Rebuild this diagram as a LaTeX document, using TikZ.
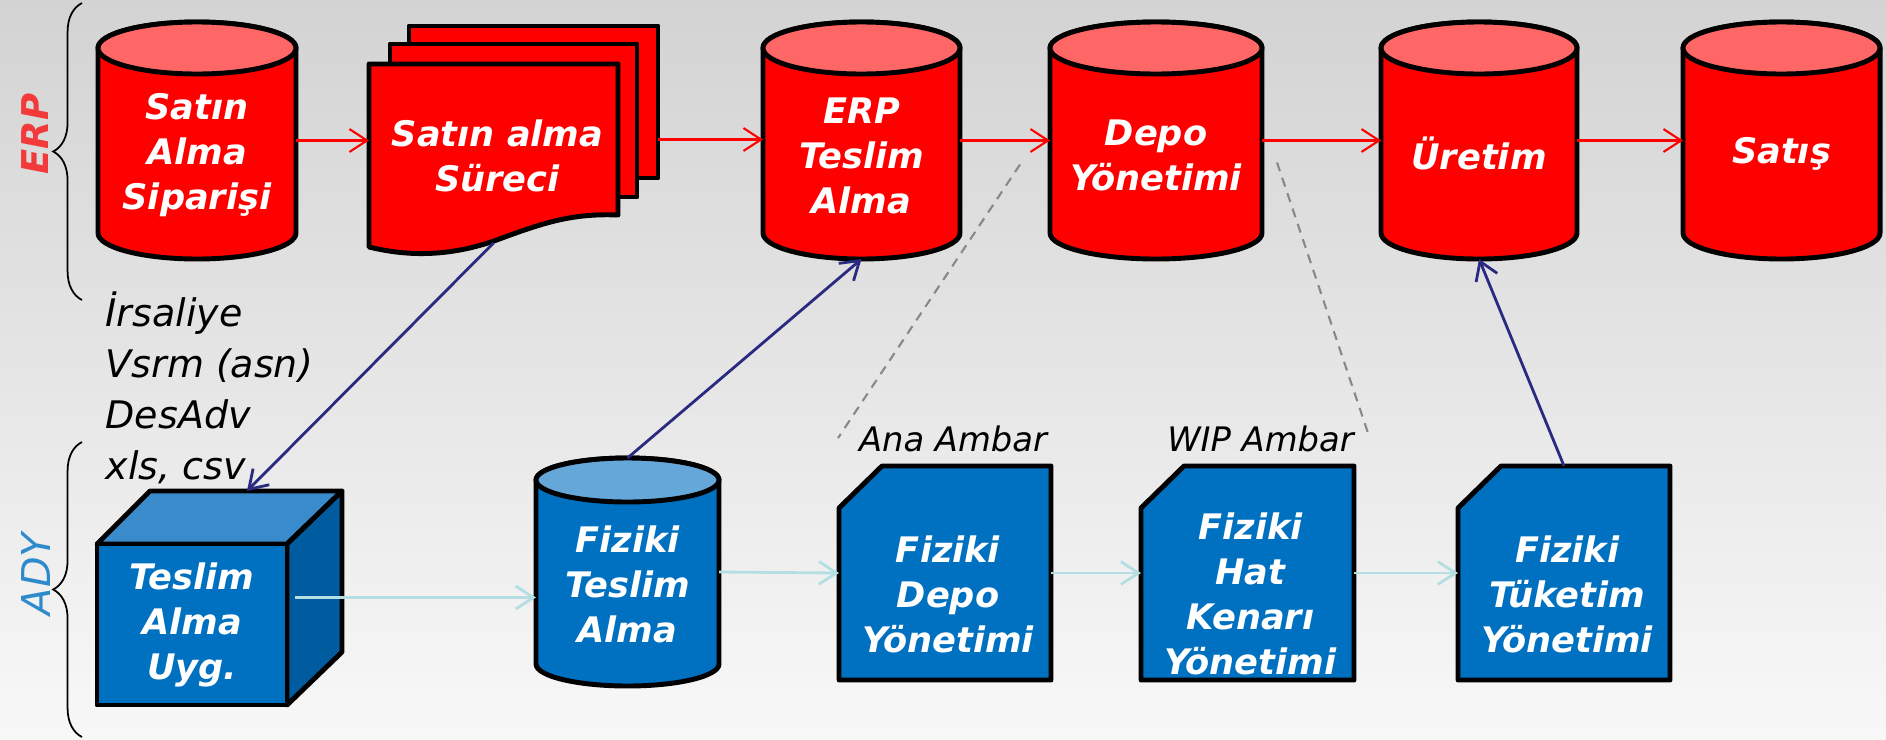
\documentclass[tikz,border=0pt]{standalone}
\usepackage{fontspec}
\setmainfont{DejaVu Sans}
\usepackage{tikz}
\usetikzlibrary{calc,fit,arrows.meta,decorations.pathreplacing}
\definecolor{bgtop}{HTML}{D3D3D3}
\definecolor{bgbot}{HTML}{F8F8F8}
\definecolor{erpred}{HTML}{FF0000}
\definecolor{erptop}{HTML}{FF6666}
\definecolor{erplab}{HTML}{F23A3A}
\definecolor{adyblue}{HTML}{0070C0}
\definecolor{adytop}{HTML}{66A7DA}
\definecolor{cubetop}{HTML}{3A8BCB}
\definecolor{cubeside}{HTML}{005C9F}
\definecolor{adylab}{HTML}{2E8BCB}
\definecolor{navy}{HTML}{2A2A80}
\definecolor{pale}{HTML}{B4DEE2}
\definecolor{muted}{HTML}{888888}
\tikzset{
  shp/.style={draw=black, line width=1.4pt, line join=round},
  hold/.style={inner sep=0pt, outer sep=0pt},
  txt/.style={text=white, align=center, inner sep=0pt, font=\fontsize{10pt}{12.8pt}\selectfont\bfseries\itshape},
  lab/.style={text=black, align=left, inner sep=0pt, font=\fontsize{10.8pt}{14.5pt}\selectfont\itshape},
  amb/.style={text=black, inner sep=0pt, font=\fontsize{9.6pt}{12pt}\selectfont\itshape},
  grp/.style={inner sep=0pt, rotate=90, font=\fontsize{11.3pt}{13pt}\selectfont\itshape},
  flow/.style={draw=erpred, line width=0.6pt, -{Straight Barb[length=5pt,width=6.5pt]}},
  feed/.style={draw=pale, line width=0.8pt, -{Straight Barb[length=5pt,width=6.5pt]}},
  link/.style={draw=navy, line width=0.8pt, -{Straight Barb[length=5pt,width=6.5pt]}},
  help/.style={draw=muted, line width=0.6pt, dash pattern=on 2.6pt off 2pt},
  brc/.style={draw=black, line width=0.5pt, decorate, decoration={brace, amplitude=8.2pt}},
}
% drum: name, centre x, half width, top, bottom, end height, body, lid
\newcommand{\drum}[8]{%
  \draw[shp, fill=#7] (#2-#3,#4+#6) -- (#2-#3,#5-#6)
    arc[start angle=180, end angle=0, x radius=#3, y radius=#6]
    -- (#2+#3,#4+#6)
    arc[start angle=0, end angle=-180, x radius=#3, y radius=#6] -- cycle;
  \draw[shp, fill=#8] (#2,#4+#6) ellipse[x radius=#3, y radius=#6];
  \node[hold, fit={(#2-#3,#4) (#2+#3,#5)}] (#1) {};
}
% snip: name, left, right
\newcommand{\snip}[3]{%
  \draw[shp, fill=adyblue] (#2+43,466) -- (#3,466) -- (#3,680) -- (#2,680) -- (#2,508) -- cycle;
  \node[hold, fit={(#2,466) (#3,680)}] (#1) {};
}
\begin{document}
\begin{tikzpicture}[x=0.01cm, y=-0.01cm]
  \useasboundingbox (0,0) rectangle (1886,739);
  \shade[top color=bgtop, bottom color=bgbot] (0,0) rectangle (1886,739);

  % ERP row
  \drum{sas}{197}{99}{22}{259}{26}{erpred}{erptop}
  \draw[shp, fill=erpred] (409,26) rectangle (658,178);
  \draw[shp, fill=erpred] (390,44) rectangle (637,197);
  \draw[shp, fill=erpred] (369,64) -- (618,64) -- (618,215)
    .. controls (570,213) and (540,224) .. (494,241)
    .. controls (450,256) and (410,257) .. (369,247) -- cycle;
  \node[hold, fit={(369,26) (658,253)}] (doc) {};
  \drum{erp}{861.5}{98.5}{22}{259}{26}{erpred}{erptop}
  \drum{depo}{1156}{106}{22}{259}{26}{erpred}{erptop}
  \drum{ure}{1479}{98}{22}{259}{26}{erpred}{erptop}
  \drum{sat}{1781.5}{98.5}{22}{259}{26}{erpred}{erptop}

  \node[txt] (sas-t) at ($(sas.center)+(0,15)$) {Satın\\Alma\\Siparişi};
  \node[txt] (doc-t) at ($(doc.center)+(-16,16)$) {Satın alma\\Süreci};
  \node[txt] (erp-t) at ($(erp.center)+(0,15)$) {ERP\\Teslim\\Alma};
  \node[txt] (depo-t) at ($(depo.center)+(0,15)$) {Depo\\Yönetimi};
  \node[txt] (ure-t) at ($(ure.center)+(0,13)$) {Üretim};
  \node[txt] (sat-t) at ($(sat.center)+(0,13)$) {Satış};

  % ADY row
  \draw[shp, fill=cubetop] (97,544) -- (150,491) -- (342,491) -- (287,544) -- cycle;
  \draw[shp, fill=cubeside] (287,544) -- (342,491) -- (342,652) -- (287,705) -- cycle;
  \draw[shp, fill=adyblue] (97,544) rectangle (287,705);
  \node[hold, fit={(97,544) (287,705)}] (cube) {};
  \drum{fzt}{627.5}{91.5}{458}{686}{22}{adyblue}{adytop}
  \snip{fdepo}{839}{1051}
  \snip{fwip}{1141}{1354}
  \snip{ftuk}{1458}{1670}

  \node[txt] (cube-t) at (cube.center) {Teslim\\Alma\\Uyg.};
  \node[txt] (fzt-t) at ($(fzt.center)+(0,12)$) {Fiziki\\Teslim\\Alma};
  \node[txt] (fdepo-t) at ($(fdepo.center)+(3,21)$) {Fiziki\\Depo\\Yönetimi};
  \node[txt] (fwip-t) at ($(fwip.center)+(3,21)$) {Fiziki\\Hat\\Kenarı\\Yönetimi};
  \node[txt] (ftuk-t) at ($(ftuk.center)+(3,21)$) {Fiziki\\Tüketim\\Yönetimi};

  % groups
  \draw[brc] (82,300) -- (82,3);
  \draw[brc] (82,737) -- (82,442);
  \node[grp, text=erplab, font=\fontsize{10.5pt}{12pt}\selectfont\bfseries\itshape] (erpl) at (35,134) {ERP};
  \node[grp, text=adylab] (adyl) at (36,574) {ADY};
  \node[lab, anchor=west] (docs) at (105,388) {İrsaliye\\Vsrm (asn)\\DesAdv\\xls, csv};
  \node[amb] (ana) at ($(fdepo.north)+(8,-27)$) {Ana Ambar};
  \node[amb] (wip) at ($(fwip.north)+(13,-27)$) {WIP Ambar};

  % flows
  \draw[flow] (sas.east) -- (sas.east -| doc.west);
  \draw[flow] (doc.east) -- (doc.east -| erp.west);
  \draw[flow] (erp.east) -- (depo.west);
  \draw[flow] (depo.east) -- (ure.west);
  \draw[flow] (ure.east) -- (sat.west);
  \coordinate (cubeout) at ($(cube.east)+(8,-27)$);
  \draw[feed] (cubeout) -- (cubeout -| fzt.west);
  \draw[feed] (fzt.east) -- (fdepo.west);
  \draw[feed] (fdepo.east) -- (fwip.west);
  \draw[feed] (fwip.east) -- (ftuk.west);
  \draw[link] ($(doc.south)+(-20,-10)$) -- ($(cube.north)+(55,-53)$);
  \draw[link] (fzt.north) -- (erp.south);
  \draw[link] (ftuk.north) -- (ure.south);

  % store hints
  \coordinate (h1) at ($(depo.west)+(-30,24)$);
  \coordinate (h2) at ($(fdepo.north west)+(-1,-28)$);
  \coordinate (h3) at ($(depo.east)+(15,22)$);
  \coordinate (h4) at ($(fwip.north east)+(15,-30)$);
  \draw[help] (h1) -- (h2);
  \draw[help] (h3) -- (h4);
\end{tikzpicture}
\end{document}
